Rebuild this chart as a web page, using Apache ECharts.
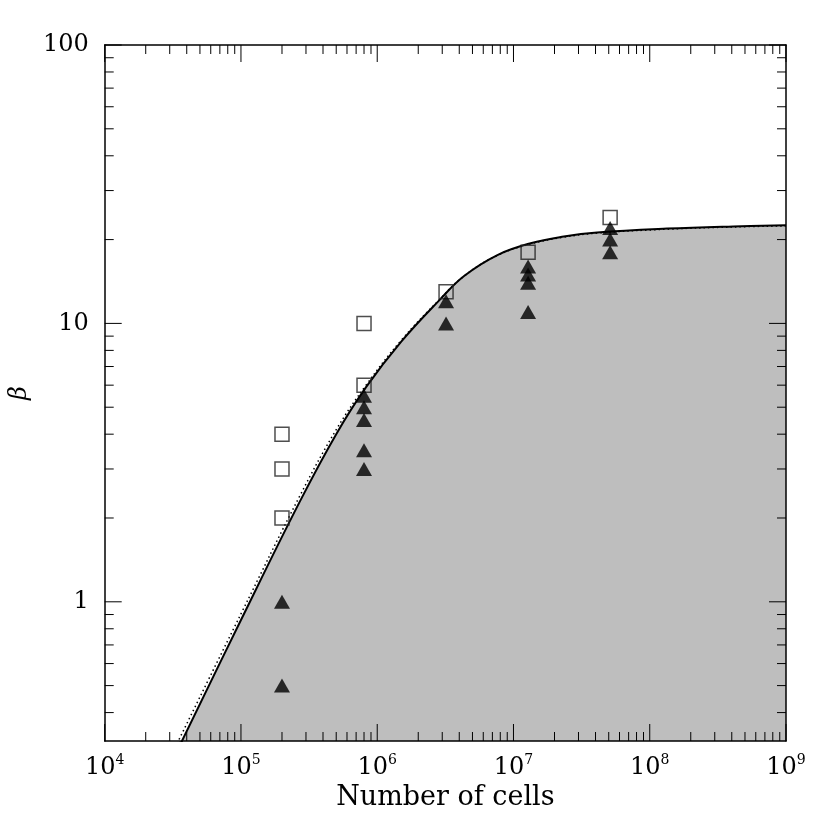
<!DOCTYPE html>
<html>
<head>
<meta charset="utf-8">
<script src="https://cdn.jsdelivr.net/npm/echarts@6/dist/echarts.min.js"></script>
<style>
  html, body { margin: 0; padding: 0; background: #fff; }
  #chart { width: 830px; height: 830px; }
</style>
</head>
<body>
<div id="chart"></div>
<script>
// axis ranges
var X_MIN = 1e4, X_MAX = 1e9;
var Y_MIN = 0.3162278, Y_MAX = 100;

// open squares
var squareN = [2e5, 2e5, 2e5, 8e5, 8e5, 3.2e6, 1.28e7, 5.12e7];
var squareBeta = [4, 3, 2, 10, 6, 13, 18, 24];

// filled triangles
var triN = [2e5, 2e5, 8e5, 8e5, 8e5, 8e5, 8e5, 3.2e6, 3.2e6,
  1.28e7, 1.28e7, 1.28e7, 1.28e7, 5.12e7, 5.12e7, 5.12e7];
var triBeta = [1, 0.5, 5.5, 5, 4.5, 3.5, 3, 12, 10, 16, 15, 14, 11, 22, 20, 18];

// solid curve
var curveN = [3.5e4, 1e5, 2.69e5, 5e5, 8.28e5, 1.5e6, 2.85e6, 4.34e6,
  7.62e6, 1.336e7, 2.34e7, 4.11e7, 1.34e8, 4.09e8, 1e9];
var curveBeta = [0.30, 0.86, 2.28, 4.0, 5.9, 8.6, 12.1, 14.8,
  17.6, 19.4, 20.5, 21.2, 21.9, 22.3, 22.5];

// dotted curve
var dotN = [3.4e4, 1e5, 2.69e5, 5e5, 8.28e5, 1.5e6, 2.85e6, 4.34e6,
  7.62e6, 1.336e7, 2.34e7, 4.11e7, 1.34e8, 4.09e8, 1e9];
var dotBeta = [0.31, 0.905, 2.39, 4.15, 6.0, 8.7, 12.15, 14.8,
  17.55, 19.3, 20.4, 21.1, 21.8, 22.2, 22.4];

// tick positions
var xDecades = [1e4, 1e5, 1e6, 1e7, 1e8, 1e9];
var yDecades = [0.1, 1, 10, 100];
var mantissas = [2, 3, 4, 5, 6, 7, 8, 9];

function zip(a, b) {
  return a.map(function (v, i) { return [v, b[i]]; });
}

var xTicks = [];
xDecades.forEach(function (d) {
  if (d >= X_MIN && d <= X_MAX) xTicks.push([d, Y_MIN, 1]);
  mantissas.forEach(function (m) {
    var v = d * m;
    if (v > X_MIN && v < X_MAX) xTicks.push([v, Y_MIN, 0]);
  });
});
var yTicks = [];
yDecades.forEach(function (d) {
  if (d >= Y_MIN && d <= Y_MAX) yTicks.push([X_MIN, d, 1]);
  mantissas.forEach(function (m) {
    var v = d * m;
    if (v > Y_MIN && v < Y_MAX) yTicks.push([X_MIN, v, 0]);
  });
});

var FONT = 'DejaVu Serif';
var MAJOR = 17, MINOR = 9;
var tickStyle = { stroke: '#000', lineWidth: 1 };

function isPow10(v) {
  var l = Math.log10(v);
  return Math.abs(l - Math.round(l)) < 1e-6;
}

function renderXTick(params, api) {
  var len = api.value(2) ? MAJOR : MINOR;
  var b = api.coord([api.value(0), Y_MIN]);
  var t = api.coord([api.value(0), Y_MAX]);
  return {
    type: 'group',
    children: [
      { type: 'line', shape: { x1: b[0], y1: b[1], x2: b[0], y2: b[1] - len }, style: tickStyle },
      { type: 'line', shape: { x1: t[0], y1: t[1], x2: t[0], y2: t[1] + len }, style: tickStyle }
    ]
  };
}

function renderYTick(params, api) {
  var len = api.value(2) ? MAJOR : MINOR;
  var l = api.coord([X_MIN, api.value(1)]);
  var r = api.coord([X_MAX, api.value(1)]);
  return {
    type: 'group',
    children: [
      { type: 'line', shape: { x1: l[0], y1: l[1], x2: l[0] + len, y2: l[1] }, style: tickStyle },
      { type: 'line', shape: { x1: r[0], y1: r[1], x2: r[0] - len, y2: r[1] }, style: tickStyle }
    ]
  };
}

var frameLine = { show: true, lineStyle: { color: '#000', width: 1.5 } };

var chart = echarts.init(document.getElementById('chart'), null, { renderer: 'canvas' });
chart.setOption({
  animation: false,
  backgroundColor: '#fff',
  grid: { left: 103, right: 44, top: 45, bottom: 89, containLabel: false },
  xAxis: [
    {
      type: 'log', min: X_MIN, max: X_MAX, splitNumber: 5, z: 6,
      axisLine: frameLine, axisTick: { show: false }, splitLine: { show: false },
      name: 'Number of cells', nameLocation: 'middle', nameGap: 40,
      nameTextStyle: { fontFamily: FONT, fontSize: 27, color: '#000' },
      axisLabel: {
        margin: 12,
        formatter: function (v) {
          if (!isPow10(v)) return '';
          return '{b|10}{s|' + Math.round(Math.log10(v)) + '}';
        },
        rich: {
          b: { fontFamily: FONT, fontSize: 24, lineHeight: 30, color: '#000' },
          s: { fontFamily: FONT, fontSize: 14, lineHeight: 14, verticalAlign: 'top', color: '#000' }
        }
      }
    },
    {
      type: 'log', min: X_MIN, max: X_MAX, position: 'top', z: 6,
      axisLine: frameLine, axisTick: { show: false }, axisLabel: { show: false },
      splitLine: { show: false }
    }
  ],
  yAxis: [
    {
      type: 'log', min: Y_MIN, max: Y_MAX, splitNumber: 2, z: 6,
      axisLine: frameLine, axisTick: { show: false }, splitLine: { show: false },
      name: 'β', nameLocation: 'middle', nameGap: 62, nameRotate: 90,
      nameTextStyle: { fontFamily: FONT, fontStyle: 'italic', fontSize: 24, color: '#000' },
      axisLabel: {
        margin: 16, fontFamily: FONT, fontSize: 24, color: '#000',
        formatter: function (v) {
          if (!isPow10(v)) return '';
          return String(Math.round(v));
        }
      }
    },
    {
      type: 'log', min: Y_MIN, max: Y_MAX, position: 'right', z: 6,
      axisLine: frameLine, axisTick: { show: false }, axisLabel: { show: false },
      splitLine: { show: false }
    }
  ],
  series: [
    {
      type: 'line', data: zip(curveN, curveBeta), smooth: 0.4,
      symbol: 'none', z: 2,
      lineStyle: { color: '#000', width: 2 },
      areaStyle: { color: '#bebebe', opacity: 1, origin: 'start' }
    },
    {
      type: 'line', data: zip(dotN, dotBeta), smooth: 0.4,
      symbol: 'none', z: 3,
      lineStyle: { color: '#000', width: 1.5, type: [1.5, 3] }
    },
    {
      type: 'scatter', data: zip(squareN, squareBeta), symbol: 'rect', symbolSize: 14, z: 4,
      itemStyle: { color: 'rgba(0,0,0,0)', borderColor: '#222', borderWidth: 1.5 }
    },
    {
      type: 'scatter', data: zip(triN, triBeta), symbol: 'triangle', symbolSize: [16, 14], z: 4,
      itemStyle: { color: '#000' }
    },
    { type: 'custom', data: xTicks, renderItem: renderXTick, z: 5, silent: true },
    { type: 'custom', data: yTicks, renderItem: renderYTick, z: 5, silent: true }
  ]
});
</script>
</body>
</html>
